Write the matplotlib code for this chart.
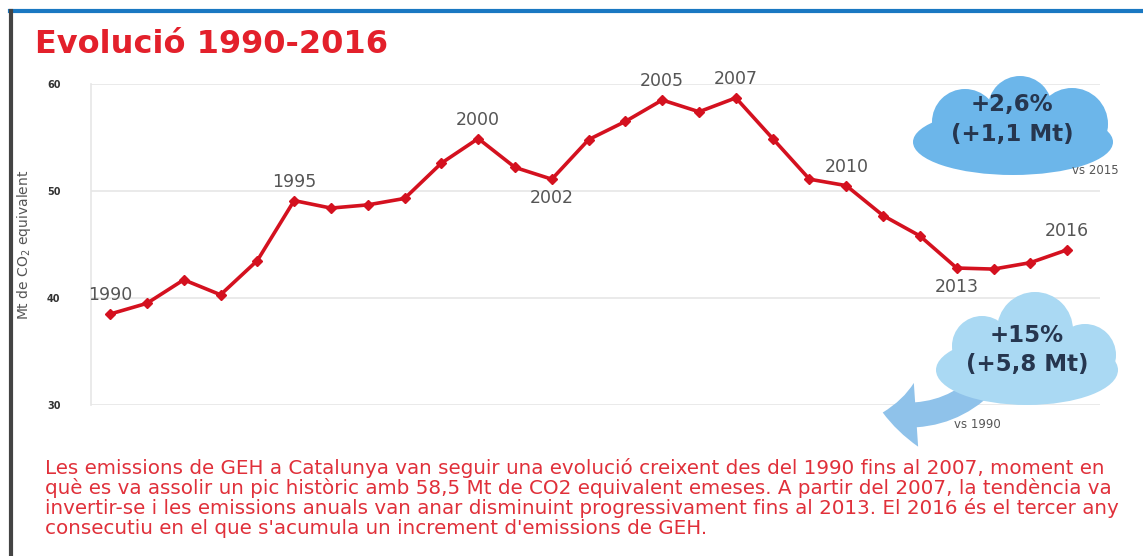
import numpy as np
import matplotlib.pyplot as plt
from matplotlib.patches import Circle, Ellipse, FancyArrowPatch

years = list(range(1990, 2017))
emissions = [38.5, 39.5, 41.7, 40.3, 43.5, 49.1, 48.4, 48.7, 49.3, 52.6,
             54.9, 52.2, 51.1, 54.8, 56.5, 58.5, 57.4, 58.7, 54.9, 51.1,
             50.5, 47.7, 45.8, 42.8, 42.7, 43.3, 44.5]
labelled = {1990: "up", 1995: "up", 2000: "up", 2002: "down", 2005: "up",
            2007: "up", 2010: "up", 2013: "down", 2016: "up"}
yticks = [30, 40, 50, 60]

red = '#d4111f'
gray = '#555555'
navy = '#26364f'

fig = plt.figure(figsize=(11.43, 5.56), dpi=100)
ax = fig.add_axes([0.0796, 0.2716, 0.883, 0.5774])

ax.plot(years, emissions, color=red, lw=2.6, marker='D', ms=5, zorder=3)
ax.set_xlim(1989.48, 2016.9)
ax.set_ylim(30, 60)
ax.set_yticks(yticks)
ax.set_yticklabels([str(t) for t in yticks], fontsize=7, fontweight='bold', color='#333333')
ax.tick_params(axis='y', length=0, pad=22)
ax.set_xticks([])
ax.grid(axis='y', color='#e6e6e6', lw=1.2)
for s in ['top', 'right', 'bottom']:
    ax.spines[s].set_visible(False)
ax.spines['left'].set_color('#e6e6e6')
ax.spines['left'].set_linewidth(1.2)
ax.set_ylabel('Mt de CO$_2$ equivalent', fontsize=10, color=gray, labelpad=10)

for yr, pos in labelled.items():
    v = emissions[years.index(yr)]
    if pos == "up":
        off, va = (0, 7), 'bottom'
    else:
        off, va = (0, -7), 'top'
    ax.annotate(str(yr), (yr, v), xytext=off, textcoords='offset points',
                ha='center', va=va, fontsize=12.5, color=gray,
                annotation_clip=False)

# overlay in pixel coordinates for decorations
ov = fig.add_axes([0, 0, 1, 1], zorder=5)
ov.set_xlim(0, 1143)
ov.set_ylim(556, 0)
ov.axis('off')
ov.patch.set_alpha(0)

# frame
ov.plot([10, 1143], [11, 11], color='#1a78c2', lw=3)
ov.plot([11, 11], [11, 556], color='#444444', lw=3)

fig.text(35 / 1143, 1 - 45 / 556, 'Evolució 1990-2016', fontsize=23, fontweight='bold',
         color='#e3202b', va='center', ha='left')

# cloud 1
c1 = '#6cb6ea'
for p in [Ellipse((1013, 142), 200, 66), Circle((965, 122), 33), Circle((1020, 108), 32),
          Circle((1072, 124), 36)]:
    p.set_facecolor(c1)
    p.set_edgecolor('none')
    ov.add_patch(p)
ov.text(1012, 104, '+2,6%', ha='center', va='center', fontsize=16.5, fontweight='bold', color=navy)
ov.text(1012, 134, '(+1,1 Mt)', ha='center', va='center', fontsize=16.5, fontweight='bold', color=navy)
ov.text(1095, 170, 'vs 2015', ha='center', va='center', fontsize=8.5, color=gray)

# cloud 2
c2 = '#aad9f3'
arr = FancyArrowPatch((995, 372), (880, 412), connectionstyle='arc3,rad=-0.3',
                      arrowstyle='simple,head_width=4.6,head_length=2.4,tail_width=1.8',
                      mutation_scale=10, color='#8fc2ea', lw=0, zorder=1)
ov.add_patch(arr)
for p in [Ellipse((1027, 370), 182, 70), Circle((982, 346), 30), Circle((1035, 330), 38),
          Circle((1085, 355), 31)]:
    p.set_facecolor(c2)
    p.set_edgecolor('none')
    p.set_zorder(2)
    ov.add_patch(p)
ov.text(1027, 335, '+15%', ha='center', va='center', fontsize=16.5, fontweight='bold', color=navy, zorder=3)
ov.text(1027, 365, '(+5,8 Mt)', ha='center', va='center', fontsize=16.5, fontweight='bold', color=navy, zorder=3)
ov.text(977, 425, 'vs 1990', ha='center', va='center', fontsize=8.5, color=gray)

para = ["Les emissions de GEH a Catalunya van seguir una evolució creixent des del 1990 fins al 2007, moment en",
        "què es va assolir un pic històric amb 58,5 Mt de CO2 equivalent emeses. A partir del 2007, la tendència va",
        "invertir-se i les emissions anuals van anar disminuint progressivament fins al 2013. El 2016 és el tercer any",
        "consecutiu en el que s'acumula un increment d'emissions de GEH."]
for i, line in enumerate(para):
    ov.text(45, 468 + i * 20, line, ha='left', va='center', fontsize=14.3, color='#e0303a')

fig.savefig('out.png', dpi=100)
